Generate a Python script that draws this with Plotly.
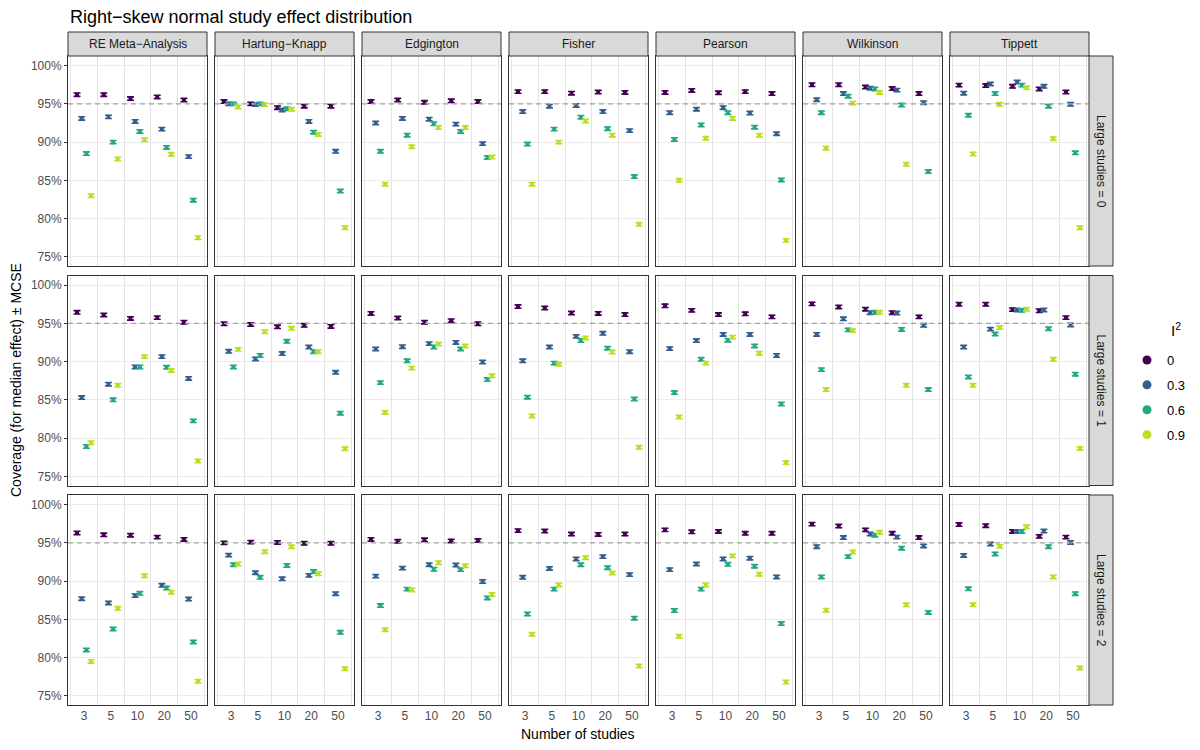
import plotly.graph_objects as go

# Coverage (%); rows = I^2 0, 0.3, 0.6, 0.9; cols = k 3, 5, 10, 20, 50
n_studies = ["3", "5", "10", "20", "50"]
i2_levels = ["0", "0.3", "0.6", "0.9"]
i2_colors = ["#440154", "#355F8D", "#22A884", "#BBDF27"]
methods = ["RE Meta\u2212Analysis", "Hartung\u2212Knapp", "Edgington", "Fisher",
           "Pearson", "Wilkinson", "Tippett"]
large_studies = ["Large studies = 0", "Large studies = 1", "Large studies = 2"]
y_ticks = [75, 80, 85, 90, 95, 100]
y_labels = ["75%", "80%", "85%", "90%", "95%", "100%"]
mcse = 0.22

re_0 = [[96.2, 96.2, 95.7, 95.9, 95.5], [93.1, 93.3, 92.7, 91.7, 88.1],
        [88.5, 90.0, 91.4, 89.3, 82.4], [83.0, 87.8, 90.3, 88.4, 77.5]]
hk_0 = [[95.3, 95.0, 94.5, 94.7, 94.7], [95.0, 94.9, 94.2, 92.7, 88.8],
        [95.0, 95.0, 94.35, 91.3, 83.6], [94.6, 94.9, 94.3, 91.0, 78.8]]
edg_0 = [[95.3, 95.5, 95.2, 95.4, 95.3], [92.5, 93.1, 93.0, 92.35, 89.8],
         [88.8, 90.9, 92.4, 91.4, 88.0], [84.5, 89.4, 91.9, 91.9, 88.05]]
fis_0 = [[96.6, 96.6, 96.4, 96.55, 96.5], [94.0, 94.7, 94.8, 94.0, 91.5],
         [89.75, 91.7, 93.25, 91.75, 85.5], [84.5, 90.0, 92.75, 90.9, 79.25]]
pea_0 = [[96.5, 96.75, 96.45, 96.6, 96.35], [93.85, 94.3, 94.5, 93.8, 91.1],
         [90.35, 92.25, 93.85, 91.95, 85.05], [85.0, 90.5, 93.1, 90.9, 77.15]]
wil_0 = [[97.5, 97.5, 97.2, 97.0, 96.35], [95.55, 96.35, 97.05, 96.8, 95.15],
         [93.85, 96.0, 96.95, 94.85, 86.15], [89.2, 95.1, 96.5, 87.1, None]]
tip_0 = [[97.45, 97.4, 97.3, 96.95, 96.55], [96.4, 97.6, 97.85, 97.3, 94.95],
         [93.5, 96.35, 97.45, 94.7, 88.6], [88.45, 94.95, 97.1, 90.45, 78.8]]

re_1 = [[96.45, 96.1, 95.65, 95.75, 95.15], [85.3, 87.05, 89.3, 90.65, 87.8],
        [78.9, 85.0, 89.3, 89.25, 82.25], [79.4, 86.9, 90.65, 88.85, 77.0]]
hk_1 = [[94.95, 94.85, 94.55, 94.75, 94.6], [91.35, 90.35, 91.05, 91.9, 88.6],
        [89.3, 90.8, 92.65, 91.3, 83.25], [91.6, 93.9, 94.35, 91.3, 78.6]]
edg_1 = [[96.3, 95.7, 95.15, 95.35, 94.95], [91.65, 91.95, 92.35, 92.5, 89.95],
         [87.25, 90.1, 91.9, 91.65, 87.65], [83.35, 89.15, 92.3, 92.05, 88.15]]
fis_1 = [[97.2, 97.0, 96.35, 96.3, 96.15], [90.1, 91.9, 93.3, 93.7, 91.3],
         [85.35, 89.8, 92.75, 91.75, 85.1], [82.9, 89.65, 93.1, 91.25, 78.8]]
pea_1 = [[97.3, 96.7, 96.15, 96.25, 95.85], [91.7, 92.75, 93.55, 93.55, 90.8],
         [85.95, 90.3, 92.8, 92.05, 84.45], [82.75, 89.8, 93.2, 91.1, 76.8]]
wil_1 = [[97.55, 97.15, 96.85, 96.4, 95.85], [93.55, 95.6, 96.4, 96.35, 94.75],
         [88.95, 94.15, 96.45, 94.2, 86.35], [86.35, 94.05, 96.45, 86.9, None]]
tip_1 = [[97.5, 97.5, 96.8, 96.65, 95.75], [91.9, 94.25, 96.75, 96.75, 94.8],
         [88.0, 93.6, 96.7, 94.3, 88.35], [86.9, 94.45, 96.85, 90.3, 78.65]]

re_2 = [[96.3, 96.05, 96.0, 95.75, 95.45], [87.7, 87.15, 88.1, 89.45, 87.65],
        [81.0, 83.75, 88.4, 89.1, 82.05], [79.5, 86.45, 90.7, 88.55, 76.9]]
hk_2 = [[95.0, 95.1, 95.05, 94.95, 94.95], [93.4, 91.1, 90.3, 90.75, 88.35],
        [92.15, 90.5, 92.05, 91.25, 83.3], [92.25, 93.85, 94.5, 90.95, 78.55]]
edg_2 = [[95.45, 95.2, 95.4, 95.25, 95.3], [90.65, 91.7, 92.15, 92.1, 89.95],
         [86.8, 88.95, 91.55, 91.5, 87.8], [83.65, 88.85, 92.4, 92.0, 88.25]]
fis_2 = [[96.6, 96.55, 96.15, 96.1, 96.15], [90.5, 91.65, 92.9, 93.2, 90.85],
         [85.7, 88.95, 92.15, 91.75, 85.15], [83.05, 89.5, 93.05, 91.05, 78.9]]
pea_2 = [[96.7, 96.45, 96.5, 96.25, 96.25], [91.5, 92.25, 92.9, 93.0, 90.55],
         [86.15, 88.95, 92.2, 91.95, 84.45], [82.8, 89.5, 93.3, 90.9, 76.8]]
wil_2 = [[97.45, 97.2, 96.7, 96.25, 95.7], [94.5, 95.7, 96.15, 95.75, 94.6],
         [90.55, 93.2, 96.0, 94.3, 85.9], [86.2, 93.8, 96.4, 86.9, None]]
tip_2 = [[97.4, 97.25, 96.5, 95.85, 95.75], [93.35, 94.85, 96.5, 96.55, 95.05],
         [89.0, 93.55, 96.5, 94.5, 88.35], [86.9, 94.55, 97.1, 90.55, 78.65]]

panels = [
    [re_0, hk_0, edg_0, fis_0, pea_0, wil_0, tip_0],
    [re_1, hk_1, edg_1, fis_1, pea_1, wil_1, tip_1],
    [re_2, hk_2, edg_2, fis_2, pea_2, wil_2, tip_2],
]

# the page body adds an 8px margin, so the figure is a bit smaller than the window
OFF = 8
W, H = 1200 - 2 * OFF, 750 - 2 * OFF
col_left, col_step, col_w = 68, 147, 139
row_top, row_step, row_h = 56, 219.5, 210
strip_h = 24


def px_x(v):
    return (v - OFF) / W


def px_y(v):
    return 1 - (v - OFF) / H


fig = go.Figure()
layout = dict(shapes=[], annotations=[])
font = "Liberation Sans, Arial, sans-serif"

for r in range(3):
    for c in range(7):
        k = r * 7 + c + 1
        xa, ya = ("x" if k == 1 else f"x{k}"), ("y" if k == 1 else f"y{k}")
        x0 = col_left + c * col_step
        y0 = row_top + r * row_step
        data = panels[r][c]
        for j, lvl in enumerate(i2_levels):
            fig.add_trace(go.Scatter(
                x=n_studies, y=data[j], xaxis=xa, yaxis=ya,
                mode="markers", offsetgroup=lvl, showlegend=False,
                marker=dict(color=i2_colors[j], size=4, symbol="square",
                            line=dict(width=0)),
                error_y=dict(type="constant", value=mcse, width=3.5,
                             thickness=1.6, color=i2_colors[j]),
                hovertemplate=f"{methods[c]}<br>I²={lvl}<br>k=%{{x}}<br>%{{y}}%<extra></extra>",
            ))
        layout["xaxis" + ("" if k == 1 else str(k))] = dict(
            domain=[px_x(x0), px_x(x0 + col_w)], anchor=ya, automargin=False,
            type="category", range=[-0.6, 4.6], tickson="boundaries",
            showgrid=True, gridcolor="#E3E3E3", gridwidth=1, zeroline=False,
            showline=True, linecolor="#333333", linewidth=1, mirror=True,
            ticks="", showticklabels=(r == 2),
            tickfont=dict(size=12, color="#4D4D4D", family=font),
            categoryorder="array", categoryarray=n_studies,
        )
        layout["yaxis" + ("" if k == 1 else str(k))] = dict(
            domain=[px_y(y0 + row_h), px_y(y0)], anchor=xa, automargin=False,
            range=[73.8, 101.26], tickmode="array", tickvals=y_ticks,
            ticktext=y_labels, showgrid=True, gridcolor="#EBEBEB", gridwidth=1,
            zeroline=False, showline=True, linecolor="#333333", linewidth=1,
            mirror=True, ticks="outside" if c == 0 else "", ticklen=3,
            tickcolor="#333333", showticklabels=(c == 0),
            tickfont=dict(size=12, color="#4D4D4D", family=font),
        )
        # reference line at 95 %
        layout["shapes"].append(dict(
            type="line", xref=f"{xa} domain", yref=ya, x0=0, x1=1, y0=95, y1=95,
            line=dict(color="#A3A3A3", width=1.4, dash="5px,4px"), layer="above"))

# column strips
for c, name in enumerate(methods):
    x0 = col_left + c * col_step
    layout["shapes"].append(dict(
        type="rect", xref="paper", yref="paper",
        x0=px_x(x0), x1=px_x(x0 + col_w), y0=px_y(row_top), y1=px_y(row_top - strip_h),
        fillcolor="#D9D9D9", line=dict(color="#333333", width=1)))
    layout["annotations"].append(dict(
        text=name, xref="paper", yref="paper", x=px_x(x0 + col_w / 2),
        y=px_y(row_top - strip_h / 2), showarrow=False,
        xanchor="center", yanchor="middle",
        font=dict(size=12, color="#1A1A1A", family=font)))

# row strips
sx = col_left + 6 * col_step + col_w
for r, name in enumerate(large_studies):
    y0 = row_top + r * row_step
    layout["shapes"].append(dict(
        type="rect", xref="paper", yref="paper",
        x0=px_x(sx), x1=px_x(sx + strip_h), y0=px_y(y0 + row_h), y1=px_y(y0),
        fillcolor="#D9D9D9", line=dict(color="#333333", width=1)))
    layout["annotations"].append(dict(
        text=name, xref="paper", yref="paper", x=px_x(sx + strip_h / 2),
        y=px_y(y0 + row_h / 2), showarrow=False, textangle=90,
        xanchor="center", yanchor="middle",
        font=dict(size=12, color="#1A1A1A", family=font)))

# titles
layout["annotations"] += [
    dict(text="Right\u2212skew normal study effect distribution", xref="paper",
         yref="paper", x=px_x(68), y=px_y(17), xanchor="left", yanchor="middle",
         showarrow=False, font=dict(size=18, color="#000000", family=font)),
    dict(text="Number of studies", xref="paper", yref="paper",
         x=px_x(578), y=px_y(734), xanchor="center", yanchor="middle",
         showarrow=False, font=dict(size=14, color="#000000", family=font)),
    dict(text="Coverage (for median effect) \u00b1 MCSE", xref="paper", yref="paper",
         x=px_x(16), y=px_y(380), xanchor="center", yanchor="middle",
         showarrow=False, textangle=-90,
         font=dict(size=14, color="#000000", family=font)),
    dict(text="I<sup>2</sup>", xref="paper", yref="paper",
         x=px_x(1169), y=px_y(330), xanchor="left", yanchor="middle",
         showarrow=False, font=dict(size=15, color="#000000", family=font)),
]

# legend entries (circle keys like the reference)
for j, lvl in enumerate(i2_levels):
    fig.add_trace(go.Scatter(
        x=[None], y=[None], mode="markers", name=lvl, offsetgroup=lvl,
        legendgroup=lvl, marker=dict(color=i2_colors[j], size=9, symbol="circle"),
        showlegend=True, hoverinfo="skip"))

fig.update_layout(
    **layout,
    width=W, height=H,
    margin=dict(l=0, r=0, t=0, b=0),
    paper_bgcolor="white", plot_bgcolor="white",
    scattermode="group", scattergap=0.3,
    font=dict(family=font),
    legend=dict(x=px_x(1127), y=px_y(345), xanchor="left", yanchor="top",
                font=dict(size=13, color="#000000"), tracegroupgap=5,
                bgcolor="rgba(0,0,0,0)"),
)

fig.write_html("out.html")
